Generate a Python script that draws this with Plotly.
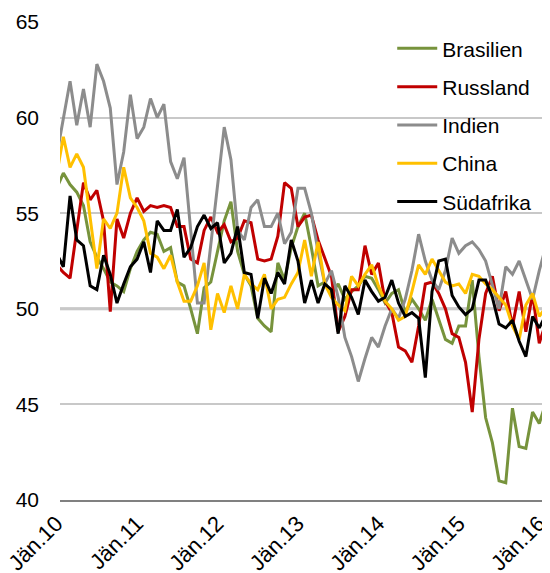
import plotly.graph_objects as go

# Monatslabels Dez.09 .. Feb.16
MONTHS = ["Jän", "Feb", "Mär", "Apr", "Mai", "Jun", "Jul", "Aug", "Sep", "Okt", "Nov", "Dez"]
months = ["Dez.09"] + [f"{m}.{y:02d}" for y in range(10, 17) for m in MONTHS][:74]

brasilien = [56.3, 57.1, 56.5, 56.1, 55.4, 53.5, 52.7, 52.1, 51.4, 51.2, 50.9, 52.1, 53.0, 53.6, 54.0,
             53.9, 53.0, 53.2, 51.4, 51.2, 50.0, 48.7, 51.1, 51.4, 53.0, 54.6, 55.6, 53.0, 51.8, 51.2,
             49.5, 49.1, 48.8, 52.4, 51.5, 53.2, 54.3, 55.0, 53.2, 51.2, 51.4, 50.8, 51.3, 50.5, 50.9,
             51.2, 51.7, 51.6, 51.0, 50.3, 50.8, 51.0, 49.8, 50.5, 50.0, 49.4, 50.5, 49.5, 48.4, 48.2,
             49.1, 49.1, 51.5, 47.5, 44.3, 43.0, 41.0, 40.9, 44.8, 42.8, 42.7, 44.6, 44.0, 45.1, 36.0]
russland = [52.3, 51.9, 51.6, 54.0, 56.6, 55.7, 56.2, 54.6, 49.85, 54.7, 53.7, 55.0, 55.8, 55.1, 55.4,
            55.3, 55.4, 55.3, 54.3, 54.3, 52.6, 52.4, 54.1, 54.8, 54.0, 54.4, 53.5, 53.7, 54.6, 54.5,
            52.6, 52.5, 52.6, 53.8, 56.6, 56.3, 54.3, 54.8, 54.9, 53.6, 52.6, 51.7, 48.8, 49.6, 51.0,
            51.0, 53.3, 51.8, 52.4, 50.4, 49.8, 48.0, 47.8, 47.2, 49.1, 51.3, 51.4, 50.8, 50.0, 48.7,
            48.5, 47.2, 44.6, 48.4, 50.8, 51.7, 49.9, 50.9, 49.1, 50.9, 48.8, 50.8, 48.2, 49.3, 49.0]
indien = [58.0, 59.9, 61.9, 59.6, 61.5, 59.5, 62.8, 61.9, 60.5, 56.5, 58.2, 61.2, 58.9, 59.5, 61.0,
          60.0, 60.7, 57.7, 56.8, 57.9, 54.0, 50.3, 50.3, 53.4, 56.4, 59.5, 57.8, 54.1, 53.6, 55.3,
          55.7, 54.3, 54.3, 55.0, 53.4, 54.0, 56.3, 56.3, 55.0, 53.0, 51.3, 52.0, 50.6, 48.5, 47.5,
          46.2, 47.4, 48.5, 48.0, 49.1, 50.0, 49.5, 50.5, 52.0, 53.9, 52.5, 51.5, 51.0, 52.0, 53.7,
          52.9, 53.3, 53.5, 53.1, 52.5, 51.2, 50.0, 52.2, 51.8, 52.5, 51.5, 50.5, 52.0, 53.3, 52.5]
china = [57.0, 59.0, 57.4, 58.1, 57.4, 54.8, 52.1, 54.7, 54.2, 55.0, 57.4, 55.8, 55.3, 54.6, 52.9,
         52.7, 52.1, 52.8, 51.4, 50.4, 50.4, 51.2, 52.4, 48.9, 50.8, 49.8, 51.2, 50.0, 51.8, 51.3,
         51.0, 51.8, 50.0, 50.5, 50.6, 51.3, 51.9, 53.6, 51.7, 53.5, 51.3, 50.6, 50.2, 49.9, 51.7,
         51.2, 51.8, 52.3, 51.2, 50.4, 50.0, 49.4, 49.6, 50.9, 52.3, 51.8, 52.6, 52.0, 51.4, 51.2,
         51.3, 50.8, 51.8, 51.7, 51.3, 51.0, 50.6, 50.2, 49.1, 48.4, 50.2, 50.8, 49.6, 50.1, 49.9]
suedafrika = [52.9, 52.2, 55.9, 53.6, 53.3, 51.2, 51.0, 52.8, 51.8, 50.3, 51.3, 52.2, 52.6, 53.5, 51.9,
              54.6, 54.1, 54.1, 55.2, 52.7, 53.2, 54.3, 54.9, 54.2, 54.5, 52.4, 52.9, 54.3, 51.9, 51.8,
              49.5, 51.6, 50.8, 51.9, 51.3, 53.6, 52.5, 50.3, 51.5, 50.3, 51.3, 51.0, 48.7, 51.2, 50.6,
              49.7, 51.5, 50.9, 50.4, 50.6, 51.5, 50.3, 49.6, 49.8, 49.5, 46.4, 50.9, 52.5, 52.6, 50.7,
              50.1, 49.7, 50.0, 51.5, 51.5, 50.6, 49.2, 49.0, 49.4, 48.3, 47.5, 49.6, 49.0, 49.7, 49.5]

series = [
    ("Brasilien", brasilien, "#77933C"),
    ("Russland", russland, "#C00000"),
    ("Indien", indien, "#8C8C8C"),
    ("China", china, "#FFC000"),
    ("Südafrika", suedafrika, "#000000"),
]
x_ticks = [f"Jän.{y}" for y in range(10, 17)]
y_ticks = [40, 45, 50, 55, 60, 65]
threshold = 50

FONT = "Liberation Sans, Arial, sans-serif"

idx = list(range(len(months)))
tick_pos = [months.index(t) for t in x_ticks]

fig = go.Figure()
for i, (name, vals, color) in enumerate(series):
    fig.add_trace(go.Scatter(
        x=idx, y=vals, name=name, mode="lines",
        line=dict(color=color, width=3),
        legendgroup=f"g{i}",
        customdata=months,
        hovertemplate="%{customdata}: %{y:.1f}<extra>" + name + "</extra>",
    ))

fig.add_hline(y=threshold, line=dict(color="#BFBFBF", width=3), layer="below")

fig.update_xaxes(
    range=[0.5, 73.6], tickvals=tick_pos, ticktext=x_ticks, tickangle=-45,
    showgrid=False, zeroline=False, showline=True, linecolor="#808080", linewidth=2,
    ticks="", ticklabelstandoff=0, ticklabelshift=-7, ticklabeloverflow="allow",
    automargin=False, tickfont=dict(size=22, color="#000000", family=FONT),
)
fig.update_yaxes(
    range=[40, 65], tickvals=y_ticks, showgrid=True, gridcolor="#C8C8C8", gridwidth=1.5,
    zeroline=False, showline=False, ticks="", ticklabelstandoff=20, automargin=False,
    tickfont=dict(size=21, color="#000000", family=FONT),
)
fig.update_layout(
    width=550, height=573,
    margin=dict(l=52, r=8, t=14, b=81),
    plot_bgcolor="white", paper_bgcolor="white",
    font=dict(family=FONT, size=21, color="#000000"),
    showlegend=True,
    legend=dict(x=0.678, y=0.987, xanchor="left", yanchor="top", bgcolor="rgba(0,0,0,0)",
                tracegroupgap=8, itemwidth=40, font=dict(size=21)),
)

fig.write_html("out.html")
